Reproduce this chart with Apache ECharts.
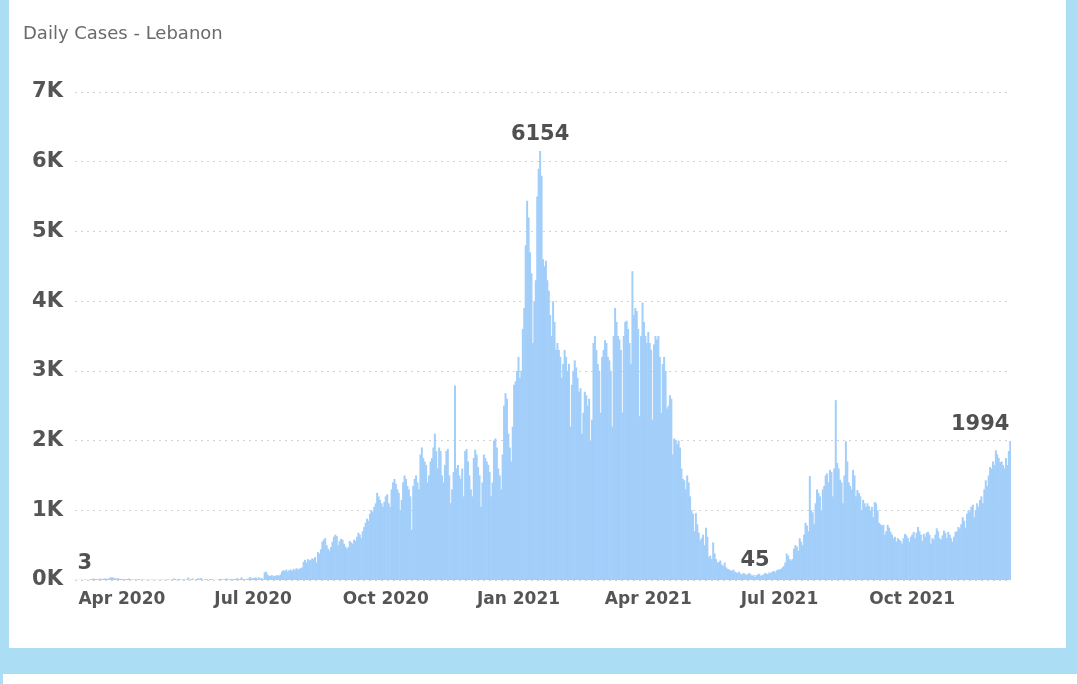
<!DOCTYPE html>
<html>
<head>
<meta charset="utf-8">
<title>Daily Cases - Lebanon</title>
<script src="https://cdn.jsdelivr.net/npm/echarts@6/dist/echarts.min.js"></script>
<style>
  html, body { margin: 0; padding: 0; }
  body { width: 1077px; height: 684px; background: #abdef5; position: relative; overflow: hidden; }
  .panel { position: absolute; background: #fff; }
  #main { position: absolute; left: 0; top: 0; width: 1077px; height: 684px; }
</style>
</head>
<body>
<div class="panel" style="left:9px; top:0; width:1057px; height:648px;"></div>
<div class="panel" style="left:3px; top:674px; width:1074px; height:10px;"></div>
<div id="main"></div>

<script>
// daily new cases (first day 29 Feb 2020, last day 8 Dec 2021)
const startDate = '2020-02-29'
const feb2020 = [3]
const mar2020 = [2, 3, 0, 3, 3, 5, 6, 3, 0, 9, 11, 20, 16, 16, 10, 11, 21, 11, 15, 24, 14, 19, 19, 37, 37, 35, 24, 21, 25, 18, 16]
const apr2020 = [16, 9, 14, 14, 13, 21, 8, 7, 6, 7, 7, 11, 11, 6, 5, 5, 4, 5, 4, 4, 4, 4, 3, 4, 4, 3, 4, 4, 4, 4]
const may2020 = [6, 4, 8, 3, 4, 5, 20, 17, 3, 12, 16, 0, 9, 9, 3, 9, 36, 3, 9, 22, 0, 7, 13, 26, 10, 29, 4, 7, 9, 11, 1]
const jun2020 = [13, 12, 9, 0, 2, 3, 7, 13, 16, 6, 10, 16, 21, 8, 11, 13, 12, 12, 14, 27, 10, 14, 38, 9, 14, 8, 16, 21, 43, 22]
const jul2020 = [24, 32, 36, 16, 38, 20, 27, 12, 110, 120, 80, 60, 60, 70, 55, 60, 65, 70, 60, 80, 120, 140, 130, 150, 120, 140, 150, 130, 160, 140, 170]
const aug2020 = [150, 160, 170, 180, 260, 290, 250, 300, 280, 290, 310, 300, 330, 250, 400, 380, 440, 550, 580, 600, 500, 450, 420, 470, 550, 620, 650, 630, 500, 560, 590]
const sep2020 = [580, 520, 480, 450, 470, 560, 540, 520, 580, 560, 620, 680, 650, 600, 700, 760, 820, 880, 850, 950, 1000, 980, 1050, 1100, 1250, 1200, 1150, 1100, 1050, 1120]
const oct2020 = [1200, 1230, 1100, 1050, 1300, 1400, 1450, 1380, 1300, 1250, 1000, 1150, 1400, 1500, 1450, 1350, 1300, 1200, 720, 1350, 1450, 1500, 1400, 1300, 1800, 1900, 1750, 1700, 1650, 1400, 1500]
const nov2020 = [1700, 1750, 1900, 2100, 1850, 1600, 1900, 1850, 1500, 1400, 1650, 1850, 1880, 1500, 1100, 1300, 1550, 2790, 1600, 1650, 1500, 1450, 1600, 1200, 1850, 1880, 1700, 1500, 1300, 1200]
const dec2020 = [1750, 1870, 1800, 1620, 1500, 1050, 1400, 1800, 1750, 1700, 1650, 1550, 1200, 1400, 2000, 2030, 1900, 1600, 1500, 1300, 1800, 2500, 2680, 2600, 2100, 1900, 1700, 2200, 2800, 2850, 3000]
const jan2021 = [3200, 2900, 3000, 3600, 3900, 4800, 5440, 5200, 4700, 4400, 3400, 4000, 4300, 5500, 5900, 6154, 5800, 4600, 4500, 4580, 4300, 4150, 3800, 3500, 4000, 3700, 3300, 3400, 3300, 3200, 2900]
const feb2021 = [3100, 3300, 3200, 3000, 3100, 2200, 2800, 3000, 3150, 3050, 2900, 2700, 2750, 2100, 2400, 2700, 2650, 2500, 2600, 2000, 2300, 3400, 3500, 3300, 3100, 3000, 2400, 3200]
const mar2021 = [3300, 3440, 3400, 3200, 3150, 3000, 2200, 3500, 3900, 3700, 3500, 3450, 3300, 2400, 3500, 3700, 3720, 3600, 3400, 3100, 4430, 3800, 3900, 3860, 3600, 2350, 3500, 3980, 3700, 3500, 3400]
const apr2021 = [3560, 3400, 3300, 2300, 3380, 3500, 3450, 3500, 3200, 2400, 3100, 3200, 3000, 2460, 2500, 2650, 2600, 1800, 2030, 2000, 1950, 2000, 1900, 1600, 1450, 1430, 1300, 1500, 1400, 1200]
const may2021 = [1000, 950, 700, 960, 800, 680, 570, 600, 650, 500, 750, 620, 330, 350, 300, 540, 380, 300, 250, 260, 280, 220, 200, 250, 180, 160, 150, 140, 130, 150, 120]
const jun2021 = [110, 100, 120, 90, 80, 100, 90, 70, 85, 100, 80, 60, 75, 45, 70, 80, 90, 60, 70, 80, 100, 90, 85, 110, 100, 120, 130, 110, 140, 150]
const jul2021 = [150, 160, 180, 200, 250, 380, 350, 300, 280, 300, 450, 500, 480, 420, 600, 550, 500, 650, 820, 780, 700, 1490, 1000, 970, 800, 1100, 1300, 1250, 1200, 1000, 1300]
const aug2021 = [1350, 1500, 1530, 1400, 1580, 1550, 1200, 1600, 2580, 1680, 1600, 1440, 1400, 1100, 1500, 1990, 1700, 1400, 1350, 1300, 1580, 1500, 1200, 1290, 1250, 1200, 1000, 1150, 1100, 1050, 1100]
const sep2021 = [1060, 1000, 1050, 900, 1120, 1100, 1000, 820, 800, 780, 790, 650, 700, 790, 750, 690, 650, 600, 620, 550, 600, 580, 560, 520, 600, 660, 640, 600, 550, 620]
const oct2021 = [650, 690, 600, 680, 760, 700, 650, 560, 660, 620, 680, 690, 650, 520, 600, 580, 650, 740, 700, 600, 580, 640, 710, 680, 600, 690, 650, 600, 550, 620, 690]
const nov2021 = [700, 760, 740, 800, 900, 850, 750, 950, 1000, 980, 1050, 1080, 900, 1000, 1100, 1050, 1150, 1200, 1100, 1300, 1430, 1350, 1500, 1620, 1600, 1700, 1650, 1860, 1800, 1750]
const dec2021 = [1690, 1700, 1650, 1600, 1750, 1650, 1850, 1994]

// days that carry a value label, and how far the label is pushed sideways
const labelledDays = ['2020-02-29', '2021-01-16', '2021-06-14', '2021-12-08']
const labelShift = [9, 0, 0, -30]

const cases = [].concat(feb2020, mar2020, apr2020, may2020, jun2020, jul2020, aug2020, sep2020,
  oct2020, nov2020, dec2020, jan2021, feb2021, mar2021, apr2021, may2021, jun2021, jul2021,
  aug2021, sep2021, oct2021, nov2021, dec2021)

const monthNames = ['Jan', 'Feb', 'Mar', 'Apr', 'May', 'Jun', 'Jul', 'Aug', 'Sep', 'Oct', 'Nov', 'Dec']
const days = []
const t0 = Date.parse(startDate + 'T00:00:00Z')
for (let i = 0; i < cases.length; i++) {
  days.push(new Date(t0 + i * 86400000).toISOString().slice(0, 10))
}

const barData = cases.map((v, i) => {
  const k = labelledDays.indexOf(days[i])
  if (k < 0) return v
  return { value: v, label: { show: true, offset: [labelShift[k], 0] } }
})

const chart = echarts.init(document.getElementById('main'), null, { renderer: 'canvas' })

const option = {
  animation: false,
  backgroundColor: 'transparent',
  title: {
    text: 'Daily Cases - Lebanon',
    left: 18,
    top: 20,
    textStyle: { fontFamily: 'DejaVu Sans', fontSize: 18, fontWeight: 'normal', color: '#6a6a6a' }
  },
  grid: { left: 75, top: 92, width: 936, height: 488, containLabel: false },
  xAxis: {
    type: 'category',
    data: days,
    boundaryGap: true,
    axisLine: { show: false },
    axisTick: { show: false },
    splitLine: { show: false },
    axisLabel: {
      interval: (idx, val) => val.slice(8) === '01' && ['01', '04', '07', '10'].includes(val.slice(5, 7)),
      formatter: val => monthNames[+val.slice(5, 7) - 1] + ' ' + val.slice(0, 4),
      margin: 11,
      fontFamily: 'DejaVu Sans',
      fontWeight: 'bold',
      fontSize: 17,
      color: '#555'
    }
  },
  yAxis: {
    type: 'value',
    min: 0,
    max: 7000,
    interval: 1000,
    axisLine: { show: false },
    axisTick: { show: false },
    splitLine: { show: true, lineStyle: { type: [2, 4], color: '#d2d2d2', width: 1 } },
    axisLabel: {
      formatter: v => (v / 1000) + 'K',
      margin: 12,
      fontFamily: 'DejaVu Sans',
      fontWeight: 'bold',
      fontSize: 21,
      color: '#555'
    }
  },
  series: [{
    type: 'bar',
    data: barData,
    barWidth: 2,
    itemStyle: { color: '#a2cefa' },
    label: {
      show: false,
      position: 'top',
      distance: 6,
      fontFamily: 'DejaVu Sans',
      fontWeight: 'bold',
      fontSize: 21,
      color: '#505050'
    }
  }]
}

chart.setOption(option)
</script>
</body>
</html>
